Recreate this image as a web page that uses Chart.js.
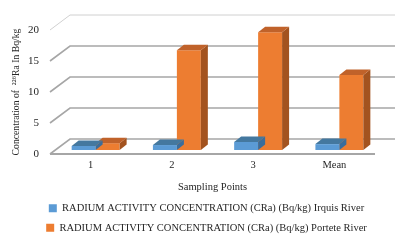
<!DOCTYPE html>
<html><head><meta charset="utf-8">
<script src="https://cdn.jsdelivr.net/npm/chart.js@4/dist/chart.umd.min.js"></script>
<style>html,body{margin:0;padding:0;background:#fff}#wrap{width:400px;height:240px}</style>
</head><body><div id="wrap"><canvas id="c" width="400" height="240"></canvas></div>
<script>
const categories = ['1', '2', '3', 'Mean'];
const irquisRiver = [0.65, 0.8, 1.3, 0.95];
const porteteRiver = [1.1, 16.1, 19.0, 12.1];
const yTicks = [0, 5, 10, 15, 20];
const seriesNames = [
  'RADIUM ACTIVITY CONCENTRATION (CRa) (Bq/kg) Irquis River',
  'RADIUM ACTIVITY CONCENTRATION (CRa) (Bq/kg) Portete River'
];

const WALL_DX = 20, WALL_DY = 15;   // depth of back wall
const BAR_DX = 5, BAR_DY = 4;       // bars sit mid depth
const DEPTH_DX = 7, DEPTH_DY = 5.5; // bar thickness
const sideColors = ['#3a6d9c', '#a3531f'];
const topColors = ['#44789f', '#c0622a'];
const LEGEND_SHIFT = 19;

const threeD = {
  id: 'threeD',
  afterLayout(chart) {
    const lg = chart.legend;
    if (lg) { lg.left += LEGEND_SHIFT; lg.right += LEGEND_SHIFT; }
  },
  beforeDatasetsDraw(chart) {
    const ctx = chart.ctx, ys = chart.scales.y, a = chart.chartArea;
    ctx.save();
    const y0 = ys.getPixelForValue(0);
    yTicks.forEach(v => {
      const y = ys.getPixelForValue(v);
      ctx.strokeStyle = v === 20 ? '#d0d0d0' : '#a6a6a6';
      ctx.lineWidth = v === 20 ? 1 : 1.6;
      ctx.beginPath();
      ctx.moveTo(a.left, y); ctx.lineTo(a.left + WALL_DX, y - WALL_DY);
      ctx.lineTo(a.right + WALL_DX, y - WALL_DY);
      ctx.stroke();
    });
    // front floor edge
    ctx.strokeStyle = '#a6a6a6'; ctx.lineWidth = 2;
    ctx.beginPath(); ctx.moveTo(a.left, y0); ctx.lineTo(a.right, y0); ctx.stroke();
    ctx.restore();
    ctx.save();
    ctx.translate(BAR_DX, -BAR_DY);
  },
  afterDatasetDraw(chart, args) {
    const ctx = chart.ctx;
    const meta = chart.getDatasetMeta(args.index);
    meta.data.forEach(bar => {
      const {x, y, base, width} = bar.getProps(['x', 'y', 'base', 'width'], true);
      const l = x - width / 2, r = x + width / 2;
      ctx.fillStyle = sideColors[args.index];
      ctx.beginPath();
      ctx.moveTo(r, base); ctx.lineTo(r + DEPTH_DX, base - DEPTH_DY);
      ctx.lineTo(r + DEPTH_DX, y - DEPTH_DY); ctx.lineTo(r, y); ctx.closePath(); ctx.fill();
      ctx.fillStyle = topColors[args.index];
      ctx.beginPath();
      ctx.moveTo(l, y); ctx.lineTo(r, y);
      ctx.lineTo(r + DEPTH_DX, y - DEPTH_DY); ctx.lineTo(l + DEPTH_DX, y - DEPTH_DY); ctx.closePath(); ctx.fill();
    });
  },
  afterDatasetsDraw(chart) {
    chart.ctx.restore();
  }
};

const serif = "'Liberation Serif', 'Times New Roman', serif";
new Chart(document.getElementById('c'), {
  type: 'bar',
  data: {
    labels: categories,
    datasets: [
      { label: seriesNames[0], data: irquisRiver, backgroundColor: '#5b9bd5' },
      { label: seriesNames[1], data: porteteRiver, backgroundColor: '#ed7d31' }
    ]
  },
  options: {
    responsive: false, animation: false,
    layout: { padding: { top: 30, right: 25, left: 0, bottom: -3 } },
    datasets: { bar: { barPercentage: 1, categoryPercentage: 0.59, clip: false } },
    plugins: {
      tooltip: { enabled: false },
      legend: {
        position: 'bottom',
        labels: { font: { family: serif, size: 10.5 }, color: '#262626', boxWidth: 8, boxHeight: 8, padding: 9 }
      }
    },
    scales: {
      x: {
        grid: { display: false, drawTicks: false }, border: { display: false },
        ticks: { font: { family: serif, size: 10.5 }, color: '#262626', padding: 5 },
        title: { display: true, text: 'Sampling Points', font: { family: serif, size: 10.5 }, color: '#262626', padding: { top: 0, bottom: 0 } },
        afterFit(s) { s.height = 40; }
      },
      y: {
        min: 0, max: 20,
        grid: { display: false, drawTicks: false }, border: { display: false },
        ticks: { stepSize: 5, font: { family: serif, size: 11 }, color: '#262626', padding: 11 },
        title: { display: true, text: 'Concentration of  \u00b2\u00b2\u2076Ra In Bq/kg', font: { family: serif, size: 9.7 }, color: '#262626', padding: { top: 11, bottom: 0 } },
        afterFit(s) { s.width = 50; }
      }
    }
  },
  plugins: [threeD]
});
</script></body></html>
